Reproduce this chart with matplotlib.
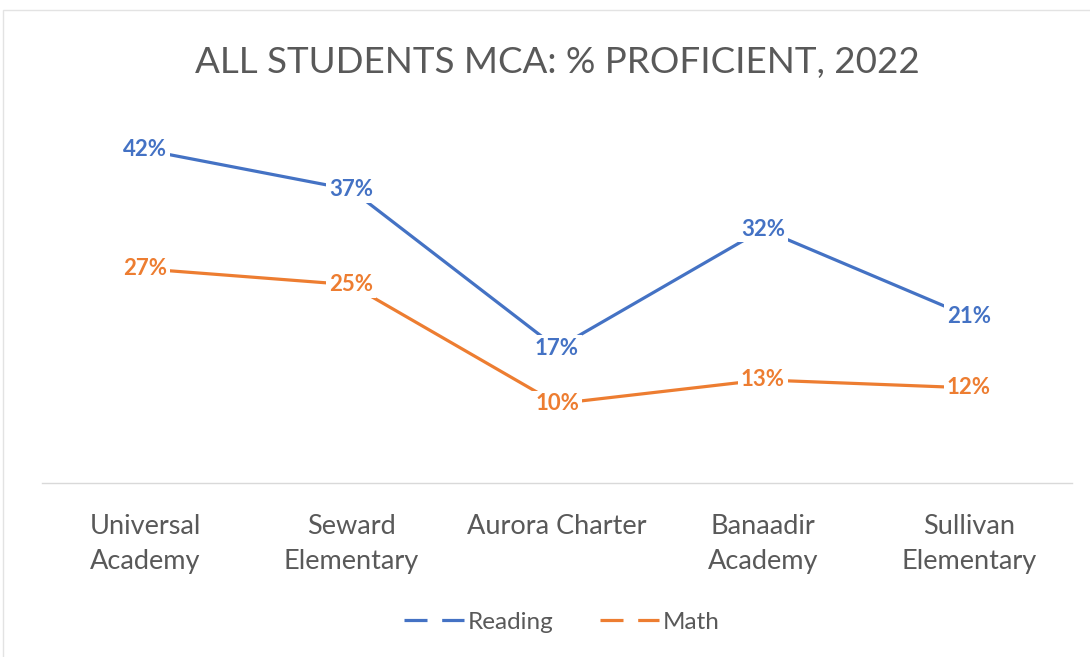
import matplotlib
matplotlib.use('Agg')
import matplotlib.pyplot as plt
from matplotlib.lines import Line2D
from matplotlib.patches import Rectangle

schools = ['Universal\nAcademy', 'Seward\nElementary', 'Aurora Charter',
           'Banaadir\nAcademy', 'Sullivan\nElementary']
reading = [42, 37, 17, 32, 21]
math = [27, 25, 10, 13, 12]

BLUE = '#4472C4'
ORANGE = '#ED7D31'
GRAY = '#595959'

plt.rcParams['font.family'] = ['Lato', 'DejaVu Sans']

fig = plt.figure(figsize=(10.9, 6.57), dpi=100)
ax = fig.add_axes([42 / 1090, 1 - 483 / 657, 1030 / 1090, (483 - 86.5) / 657])

x = list(range(len(schools)))
for values, color in [(reading, BLUE), (math, ORANGE)]:
    ax.plot(x, values, color=color, linewidth=2.3, solid_capstyle='round', zorder=2)
    for xi, v in zip(x, values):
        ax.text(xi, v, f'{v}%', color=color, fontsize=16, fontweight='bold',
                ha='center', va='center', zorder=3,
                bbox=dict(boxstyle='square,pad=0.12', fc='white', ec='none'))

ax.set_xlim(-0.5, len(schools) - 0.5)
ax.set_ylim(0, 50)
ax.set_yticks([])
ax.set_xticks(x)
ax.set_xticklabels(schools, fontsize=19.5, color=GRAY, linespacing=1.5)
ax.tick_params(axis='x', length=0, pad=22)
for side in ['top', 'right', 'left']:
    ax.spines[side].set_visible(False)
ax.spines['bottom'].set_color('#D9D9D9')
ax.spines['bottom'].set_linewidth(1)

fig.text(557 / 1090, 1 - 62 / 657, 'ALL STUDENTS MCA: % PROFICIENT, 2022',
         fontsize=26.5, fontweight='normal', color=GRAY, ha='center', va='center')

dash = (0, (7.2, 4.6))
handles = [Line2D([], [], color=BLUE, linewidth=2.3, linestyle=dash),
           Line2D([], [], color=ORANGE, linewidth=2.3, linestyle=dash)]
fig.legend(handles, ['Reading', 'Math'], loc='center',
           bbox_to_anchor=(562 / 1090, 1 - 622 / 657), ncol=2, frameon=False,
           fontsize=17.5, labelcolor=GRAY, handlelength=2.45, handletextpad=0.15,
           columnspacing=1.9)

fig.patches.append(Rectangle((3 / 1090, -0.01), 1.1, 1 - 10 / 657 + 0.01,
                             transform=fig.transFigure, fill=False,
                             edgecolor='#E3E3E3', linewidth=1))

fig.savefig('out.png', dpi=100)
